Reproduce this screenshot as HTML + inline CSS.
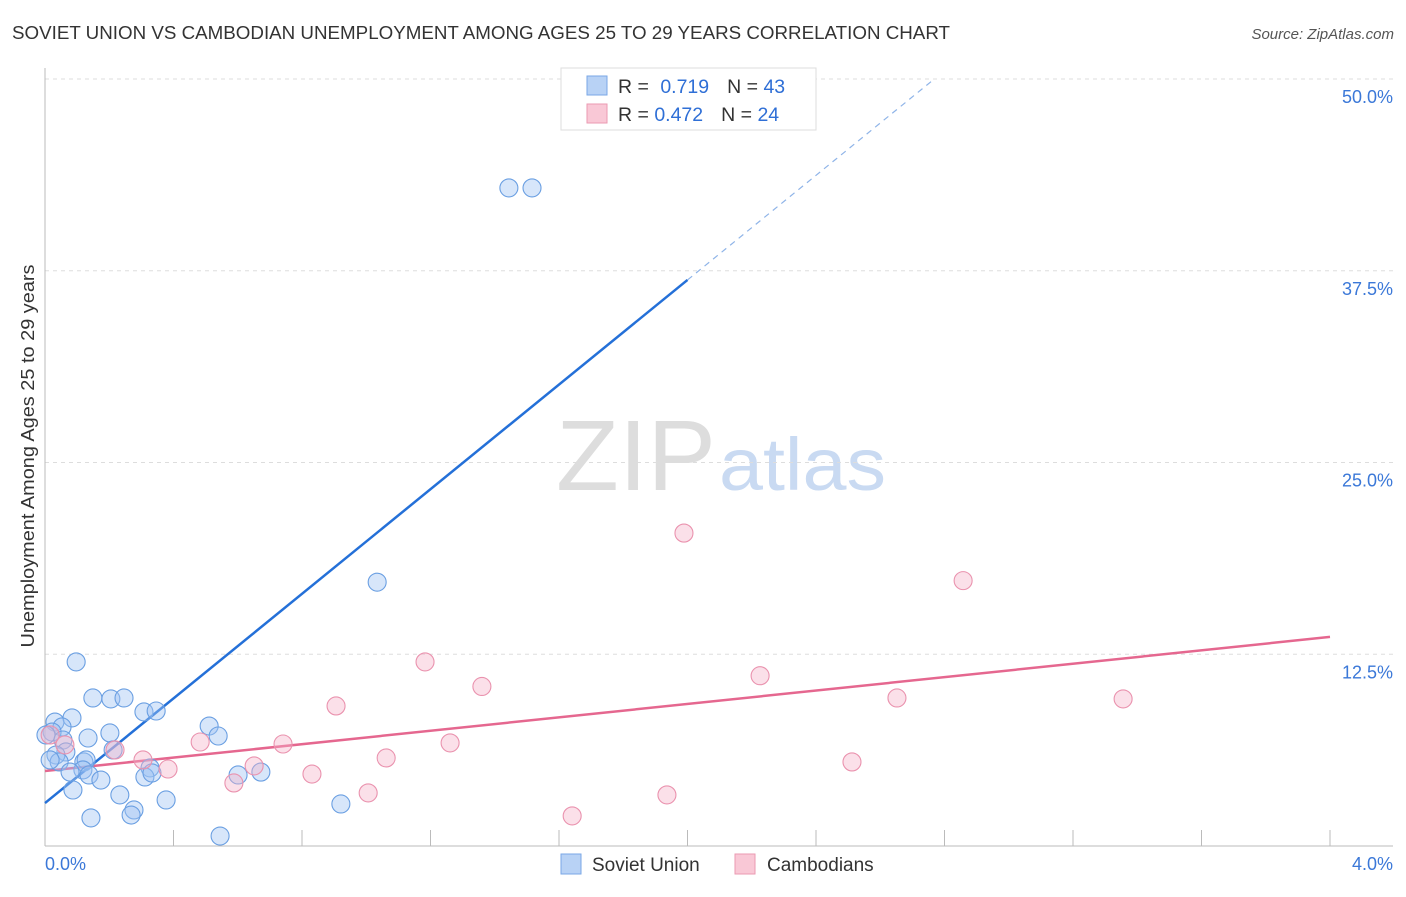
<!DOCTYPE html>
<html><head><meta charset="utf-8"><style>
body{margin:0;background:#fff;font-family:"Liberation Sans",sans-serif;}
svg text{font-family:"Liberation Sans",sans-serif;}
</style></head><body>
<svg id="chart" width="1406" height="892" xmlns="http://www.w3.org/2000/svg">
<text x="12" y="39" font-size="18.6" fill="#333" textLength="938" lengthAdjust="spacingAndGlyphs">SOVIET UNION VS CAMBODIAN UNEMPLOYMENT AMONG AGES 25 TO 29 YEARS CORRELATION CHART</text>
<text x="1394" y="39" font-size="15" fill="#555" text-anchor="end" font-style="italic">Source: ZipAtlas.com</text>
<text transform="translate(34,456) rotate(-90)" font-size="18" fill="#333" text-anchor="middle" textLength="383" lengthAdjust="spacingAndGlyphs">Unemployment Among Ages 25 to 29 years</text>
<text x="716" y="490" font-size="100" text-anchor="end" fill="#ddd" font-family="Liberation Serif" textLength="160" lengthAdjust="spacingAndGlyphs">ZIP</text>
<text x="719" y="490" font-size="74" fill="#c9daf2" textLength="167" lengthAdjust="spacingAndGlyphs">atlas</text>
<g id="grid"></g><g id="axes"></g><g id="lines"></g><g id="points"></g>
<g>
<rect x="561" y="68" width="255" height="62" fill="#fff" stroke="#ddd"/>
<rect x="587" y="76" width="20" height="19" fill="#b8d2f5" stroke="#7aa7e6"/>
<rect x="587" y="104" width="20" height="19" fill="#f9c8d6" stroke="#eb9ab2"/>
<text x="618" y="93" font-size="19.5" fill="#333">R = <tspan fill="#2f6fd6" dx="6">0.719</tspan><tspan fill="#333" dx="18">N = </tspan><tspan fill="#2f6fd6">43</tspan></text>
<text x="618" y="121" font-size="19.5" fill="#333">R = <tspan fill="#2f6fd6">0.472</tspan><tspan fill="#333" dx="18">N = </tspan><tspan fill="#2f6fd6">24</tspan></text>
</g>
<g>
<rect x="561" y="854" width="20" height="20" fill="#b8d2f5" stroke="#7aa7e6"/>
<text x="592" y="871" font-size="19" fill="#333">Soviet Union</text>
<rect x="735" y="854" width="20" height="20" fill="#f9c8d6" stroke="#eb9ab2"/>
<text x="767" y="871" font-size="19" fill="#333">Cambodians</text>
</g>
</svg>
<script>
const yTicks=[12.5,25.0,37.5,50.0];
const yTickLabels=["12.5%","25.0%","37.5%","50.0%"];
const xTickCount=10;
const xAxisLabels=["0.0%","4.0%"];
const sovietX=[1.444,1.516,1.034,0.097,0.149,0.205,0.246,0.308,0.346,0.031,0.084,0.053,0.134,0.202,0.511,0.539,0.022,0.003,0.056,0.065,0.034,0.044,0.121,0.128,0.212,0.118,0.137,0.078,0.174,0.087,0.327,0.311,0.333,0.601,0.672,0.233,0.377,0.277,0.268,0.143,0.921,0.545,0.016];
const sovietY=[42.9,42.9,17.2,12.0,9.65,9.59,9.65,8.74,8.80,8.08,8.35,7.76,7.04,7.37,7.82,7.17,7.43,7.24,6.91,6.13,5.93,5.48,5.48,5.61,6.26,4.96,4.63,4.82,4.30,3.65,5.09,4.50,4.76,4.63,4.82,3.33,3.00,2.35,2.02,1.83,2.74,0.65,5.61];
const cambX=[1.989,2.858,1.183,1.360,2.226,0.906,2.652,3.356,0.483,0.741,1.261,1.062,0.651,0.831,1.006,0.588,0.305,0.383,0.218,2.512,1.936,1.641,0.016,0.062];
const cambY=[20.4,17.3,12.0,10.4,11.1,9.13,9.65,9.59,6.78,6.65,6.72,5.74,5.22,4.69,3.46,4.11,5.61,5.02,6.26,5.48,3.33,1.96,7.24,6.59];
const sovietTrend=[2.8,17.05];
const sovietSolidEnd=2.0;
const cambTrend=[4.89,2.185];

const X0=45,X1=1330,Y0=846,YTOP=79;
const xs=v=>X0+(v/4)*(X1-X0);
const ys=v=>Y0-(v/50)*(Y0-YTOP);
const NS="http://www.w3.org/2000/svg";
function mk(tag,attrs,parent){const e=document.createElementNS(NS,tag);for(const k in attrs)e.setAttribute(k,attrs[k]);parent.appendChild(e);return e;}
const grid=document.getElementById('grid'),axes=document.getElementById('axes'),lines=document.getElementById('lines'),pts=document.getElementById('points');
yTicks.forEach((t,i)=>{
  const l=mk('line',{x1:X0,x2:1393,y1:ys(t),y2:ys(t),stroke:'#ddd','stroke-dasharray':'4,4'},grid);
  
  
  const tx=mk('text',{x:1393,y:ys(t)+24,'font-size':18,fill:'#3b78d8','text-anchor':'end'},grid);
  tx.textContent=yTickLabels[i];
  
  
});
let a=mk('line',{x1:X0,x2:X0,y1:68,y2:Y0,stroke:'#bbb'},axes);


a=mk('line',{x1:X0,x2:1393,y1:Y0,y2:Y0,stroke:'#bbb'},axes);


for(let i=1;i<=xTickCount;i++){
  const t=mk('line',{x1:xs(i*0.4),x2:xs(i*0.4),y1:Y0,y2:Y0-16,stroke:'#bbb'},axes);
  
  
}
let xl=mk('text',{x:X0,y:870,'font-size':18,fill:'#3b78d8'},axes);xl.textContent=xAxisLabels[0];


xl=mk('text',{x:1393,y:870,'font-size':18,fill:'#3b78d8','text-anchor':'end'},axes);xl.textContent=xAxisLabels[1];


function addPts(X,Y,fill,stroke,name){X.forEach((x,i)=>{
  const c=mk('circle',{cx:xs(x),cy:ys(Y[i]),r:9,fill:fill,stroke:stroke,'stroke-width':1.1},pts);
  
  
});}
addPts(sovietX,sovietY,'rgba(160,196,242,0.42)','#6a9fe2','soviet-point');
addPts(cambX,cambY,'rgba(246,178,200,0.4)','#ea92ae','cambodian-point');
const sEndDash=(50-sovietTrend[0])/sovietTrend[1];
let ln=mk('line',{x1:xs(0),y1:ys(sovietTrend[0]),x2:xs(sovietSolidEnd),y2:ys(sovietTrend[0]+sovietTrend[1]*sovietSolidEnd),stroke:'#2470d8','stroke-width':2.5},lines);


ln=mk('line',{x1:xs(sovietSolidEnd),y1:ys(sovietTrend[0]+sovietTrend[1]*sovietSolidEnd),x2:xs(sEndDash),y2:ys(50),stroke:'#8fb4e8','stroke-width':1.2,'stroke-dasharray':'6,5'},lines);


ln=mk('line',{x1:xs(0),y1:ys(cambTrend[0]),x2:xs(4),y2:ys(cambTrend[0]+cambTrend[1]*4),stroke:'#e5678f','stroke-width':2.5},lines);


</script>
</body></html>
